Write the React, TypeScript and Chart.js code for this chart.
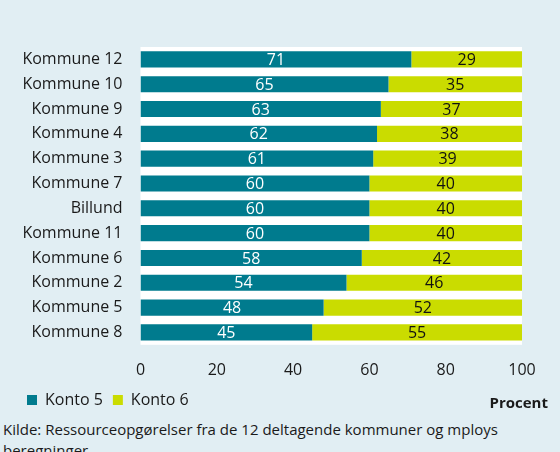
import React, { useEffect, useRef } from "react";
import { Chart, registerables } from "chart.js";

Chart.register(...registerables);

const categories = [
  "Kommune 12", "Kommune 10", "Kommune 9", "Kommune 4", "Kommune 3", "Kommune 7",
  "Billund", "Kommune 11", "Kommune 6", "Kommune 2", "Kommune 5", "Kommune 8",
];
const konto5 = [71, 65, 63, 62, 61, 60, 60, 60, 58, 54, 48, 45];
const konto6 = [29, 35, 37, 38, 39, 40, 40, 40, 42, 46, 52, 55];
const xTicks = [0, 20, 40, 60, 80, 100];

const BG = "#e1eef3";
const TEAL = "#007b8e";
const LIME = "#cadc00";
const FONT = "'Open Sans', sans-serif";

const plotBg = {
  id: "plotBg",
  beforeDraw(chart: any) {
    const { ctx, chartArea } = chart;
    ctx.save();
    ctx.fillStyle = "#ffffff";
    ctx.fillRect(chartArea.left, chartArea.top, chartArea.right - chartArea.left, chartArea.bottom - chartArea.top);
    ctx.restore();
  },
};

const barLabels = {
  id: "barLabels",
  afterDatasetsDraw(chart: any) {
    const { ctx } = chart;
    ctx.save();
    ctx.font = `16px ${FONT}`;
    ctx.textAlign = "center";
    ctx.textBaseline = "middle";
    chart.data.datasets.forEach((ds: any, di: number) => {
      const meta = chart.getDatasetMeta(di);
      meta.data.forEach((el: any, i: number) => {
        const p = el.getProps(["x", "y", "base"], true);
        const cx = (p.x + p.base) / 2;
        ctx.fillStyle = di === 0 ? "#ffffff" : "#111111";
        ctx.fillText(String(ds.data[i]), cx, p.y + 1);
      });
    });
    ctx.restore();
  },
};

export default function App() {
  const ref = useRef<HTMLCanvasElement>(null);
  useEffect(() => {
    if (!ref.current) return;
    const chart = new Chart(ref.current, {
      type: "bar",
      data: {
        labels: categories,
        datasets: [
          { label: "Konto 5", data: konto5, backgroundColor: TEAL, barPercentage: 0.65, categoryPercentage: 1 },
          { label: "Konto 6", data: konto6, backgroundColor: LIME, barPercentage: 0.65, categoryPercentage: 1 },
        ],
      },
      options: {
        indexAxis: "y",
        animation: false,
        responsive: false,
        maintainAspectRatio: false,
        layout: { padding: { left: 17, right: 38, top: 47, bottom: 0 } },
        plugins: {
          tooltip: { enabled: false },
          legend: {
            position: "bottom",
            align: "start",
            labels: {
              boxWidth: 10,
              boxHeight: 10,
              padding: 10,
              color: "#1a1a1a",
              font: { family: FONT, size: 16 },
            },
          },
        },
        scales: {
          x: {
            stacked: true,
            min: 0,
            max: 100,
            afterBuildTicks: (s: any) => {
              s.ticks = xTicks.map((v) => ({ value: v }));
            },
            afterFit: (s: any) => {
              s.height = s.height - 14;
            },
            grid: { display: false, drawTicks: false },
            border: { display: false },
            ticks: { color: "#1a1a1a", font: { family: FONT, size: 16 }, padding: 16 },
          },
          y: {
            stacked: true,
            afterFit: (s: any) => {
              s.width = 123.5;
            },
            grid: { display: false, drawTicks: false },
            border: { display: false },
            ticks: { color: "#1a1a1a", font: { family: FONT, size: 16 }, padding: 18 },
          },
        },
      },
      plugins: [plotBg, barLabels],
    } as any);
    return () => chart.destroy();
  }, []);

  return (
    <div style={{ position: "fixed", left: 0, top: 0, width: 560, height: 452, background: BG, overflow: "hidden", fontFamily: FONT }}>
      <canvas ref={ref} width={560} height={418} style={{ position: "absolute", left: 0, top: 0, width: 560, height: 418 }} />
      <div style={{ position: "absolute", right: 12, top: 392, fontSize: 15, fontWeight: 700, color: "#1a1a1a" }}>Procent</div>
      <div style={{ position: "absolute", left: 3, top: 419, width: 555, fontSize: 15, lineHeight: "21px", color: "#1a1a1a" }}>
        Kilde: Ressourceopgørelser fra de 12 deltagende kommuner og mploys beregninger
      </div>
    </div>
  );
}
